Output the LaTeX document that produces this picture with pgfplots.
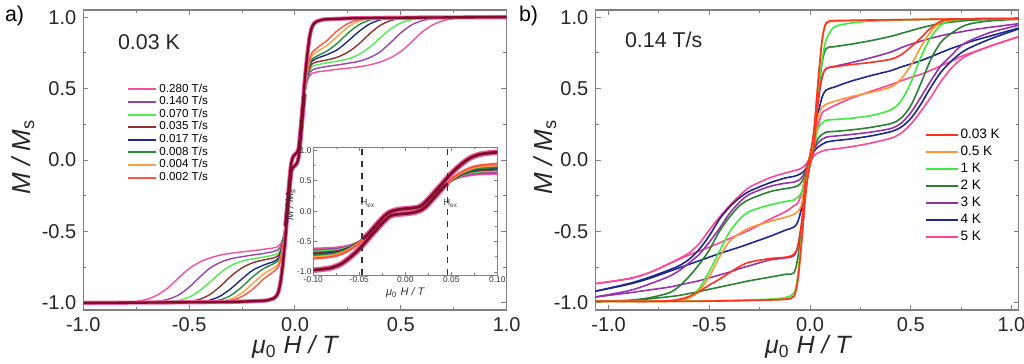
\documentclass[border=0pt]{standalone}
\usepackage{fontspec}
\setmainfont{Liberation Sans}
\usepackage{pgfplots}
\pgfplotsset{compat=1.18}
\usepackage{pgfplotstable}

\definecolor{cPinkA}{RGB}{245,80,160}
\definecolor{cPurpA}{RGB}{150,70,170}
\definecolor{cGreenA}{RGB}{80,235,80}
\definecolor{cBrownA}{RGB}{140,50,50}
\definecolor{cBlueA}{RGB}{30,40,140}
\definecolor{cDGreenA}{RGB}{40,140,60}
\definecolor{cOrangeA}{RGB}{255,160,70}
\definecolor{cRedA}{RGB}{255,85,60}
\definecolor{cMaroon}{RGB}{125,15,40}
\definecolor{cHalo}{RGB}{240,90,160}
\definecolor{cRedB}{RGB}{255,50,30}
\definecolor{cOrangeB}{RGB}{255,150,50}
\definecolor{cGreenB}{RGB}{60,235,60}
\definecolor{cDGreenB}{RGB}{40,130,50}
\definecolor{cPurpB}{RGB}{150,50,170}
\definecolor{cBlueB}{RGB}{30,40,140}
\definecolor{cPinkB}{RGB}{255,70,150}

% ---------- panel a: common part of the down sweep ----------
\pgfplotstableread{
x y
1.0 1.0
0.6 0.997
0.3 0.993
0.15 0.985
0.12 0.978
0.1 0.968
0.09 0.955
0.08 0.93
0.07 0.87
0.06 0.76
0.05 0.62
0.04 0.45
0.03 0.28
0.022 0.15
0.016 0.075
0.008 0.05
0 0.04
-0.008 0.025
-0.016 -0.01
-0.022 -0.07
-0.03 -0.2
-0.04 -0.37
-0.046 -0.46
}\Acommon
% 0.280 T/s
\pgfplotstableread{
x y
-0.03 -0.2
-0.04 -0.37
-0.05 -0.5
-0.06 -0.56
-0.07 -0.59
-0.08 -0.605
-0.1 -0.615
-0.15 -0.625
-0.2 -0.635
-0.25 -0.643
-0.3 -0.652
-0.35 -0.665
-0.4 -0.685
-0.45 -0.715
-0.5 -0.76
-0.55 -0.825
-0.6 -0.895
-0.65 -0.945
-0.7 -0.975
-0.75 -0.99
-0.8 -0.997
-0.9 -1.0
-1.0 -1.0
}\Aa
% 0.140 T/s
\pgfplotstableread{
x y
-0.03 -0.2
-0.04 -0.37
-0.05 -0.5
-0.06 -0.57
-0.07 -0.61
-0.08 -0.628
-0.1 -0.64
-0.15 -0.655
-0.2 -0.665
-0.25 -0.677
-0.3 -0.69
-0.35 -0.715
-0.4 -0.755
-0.45 -0.82
-0.5 -0.89
-0.55 -0.945
-0.6 -0.975
-0.65 -0.99
-0.7 -0.997
-0.8 -1.0
-1.0 -1.0
}\Ab
% 0.070 T/s
\pgfplotstableread{
x y
-0.03 -0.2
-0.04 -0.37
-0.05 -0.51
-0.06 -0.58
-0.07 -0.63
-0.08 -0.652
-0.1 -0.665
-0.15 -0.68
-0.2 -0.692
-0.25 -0.708
-0.3 -0.737
-0.35 -0.787
-0.4 -0.852
-0.45 -0.915
-0.5 -0.96
-0.55 -0.982
-0.6 -0.993
-0.7 -1.0
-1.0 -1.0
}\Ac
% 0.035 T/s
\pgfplotstableread{
x y
-0.03 -0.2
-0.04 -0.37
-0.05 -0.51
-0.06 -0.59
-0.07 -0.645
-0.08 -0.67
-0.1 -0.685
-0.15 -0.70
-0.2 -0.72
-0.25 -0.755
-0.3 -0.81
-0.35 -0.88
-0.4 -0.94
-0.45 -0.975
-0.5 -0.99
-0.55 -0.997
-0.6 -1.0
-1.0 -1.0
}\Ad
% 0.017 T/s
\pgfplotstableread{
x y
-0.03 -0.2
-0.04 -0.37
-0.05 -0.52
-0.06 -0.6
-0.07 -0.66
-0.08 -0.69
-0.1 -0.71
-0.15 -0.737
-0.2 -0.772
-0.25 -0.832
-0.3 -0.897
-0.35 -0.95
-0.4 -0.98
-0.45 -0.993
-0.5 -1.0
-1.0 -1.0
}\Ae
% 0.008 T/s
\pgfplotstableread{
x y
-0.03 -0.2
-0.04 -0.37
-0.05 -0.52
-0.06 -0.61
-0.07 -0.67
-0.08 -0.705
-0.1 -0.725
-0.15 -0.762
-0.2 -0.817
-0.25 -0.887
-0.3 -0.945
-0.35 -0.978
-0.4 -0.992
-0.45 -0.998
-0.5 -1.0
-1.0 -1.0
}\Af
% 0.004 T/s
\pgfplotstableread{
x y
-0.03 -0.2
-0.04 -0.37
-0.05 -0.52
-0.06 -0.62
-0.07 -0.69
-0.08 -0.73
-0.1 -0.755
-0.15 -0.80
-0.2 -0.865
-0.25 -0.93
-0.3 -0.972
-0.35 -0.99
-0.4 -0.997
-0.5 -1.0
-1.0 -1.0
}\Ag
% 0.002 T/s
\pgfplotstableread{
x y
-0.03 -0.2
-0.04 -0.37
-0.05 -0.53
-0.06 -0.635
-0.07 -0.71
-0.08 -0.75
-0.1 -0.78
-0.15 -0.835
-0.2 -0.905
-0.25 -0.955
-0.3 -0.983
-0.35 -0.995
-0.4 -1.0
-1.0 -1.0
}\Ah

% ---------- panel b: x, down sweep, up sweep ----------
% 0.03 K
\pgfplotstableread{
x dn up
1.04 0.99 0.99
0.9 0.99 0.99
0.8 0.988 0.988
0.75 0.988 0.986
0.7 0.987 0.983
0.65 0.986 0.972
0.6 0.985 0.925
0.55 0.984 0.855
0.5 0.983 0.79
0.45 0.982 0.735
0.4 0.981 0.705
0.3 0.98 0.683
0.2 0.978 0.667
0.12 0.975 0.652
0.08 0.96 0.64
0.06 0.84 0.58
0.04 0.55 0.42
0.02 0.22 0.1
0 0.03 -0.03
-0.02 -0.1 -0.22
-0.04 -0.42 -0.55
-0.06 -0.6 -0.84
-0.08 -0.66 -0.955
-0.12 -0.68 -0.975
-0.2 -0.69 -0.98
-0.3 -0.715 -0.983
-0.35 -0.745 -0.985
-0.4 -0.79 -0.986
-0.45 -0.835 -0.987
-0.5 -0.875 -0.988
-0.55 -0.92 -0.989
-0.6 -0.955 -0.99
-0.65 -0.975 -0.99
-0.7 -0.985 -0.99
-0.8 -0.99 -0.99
-0.9 -0.99 -0.99
-1.07 -0.99 -0.99
}\Ba
% 0.5 K
\pgfplotstableread{
x dn up
1.04 0.99 0.99
0.9 0.99 0.99
0.8 0.988 0.988
0.75 0.988 0.986
0.7 0.987 0.982
0.65 0.986 0.965
0.6 0.985 0.9
0.55 0.984 0.79
0.5 0.983 0.66
0.45 0.982 0.565
0.4 0.981 0.51
0.3 0.978 0.473
0.2 0.975 0.442
0.12 0.97 0.41
0.08 0.955 0.39
0.06 0.83 0.37
0.04 0.54 0.3
0.02 0.2 0.1
0 0.03 -0.03
-0.02 -0.1 -0.2
-0.04 -0.3 -0.53
-0.06 -0.36 -0.82
-0.08 -0.38 -0.95
-0.12 -0.40 -0.972
-0.2 -0.43 -0.978
-0.3 -0.475 -0.982
-0.35 -0.515 -0.984
-0.4 -0.57 -0.985
-0.45 -0.68 -0.986
-0.5 -0.815 -0.987
-0.55 -0.915 -0.988
-0.6 -0.965 -0.989
-0.65 -0.985 -0.99
-0.7 -0.99 -0.99
-0.8 -0.99 -0.99
-0.9 -0.99 -0.99
-1.07 -0.99 -0.99
}\Bb
% 1 K
\pgfplotstableread{
x dn up
1.04 0.99 0.99
0.9 0.99 0.99
0.8 0.988 0.987
0.75 0.987 0.984
0.7 0.986 0.975
0.65 0.985 0.945
0.6 0.984 0.86
0.55 0.983 0.72
0.5 0.982 0.54
0.45 0.98 0.41
0.4 0.978 0.35
0.3 0.972 0.31
0.2 0.958 0.292
0.12 0.93 0.283
0.08 0.84 0.278
0.06 0.7 0.26
0.04 0.48 0.22
0.02 0.18 0.1
0 0.03 -0.03
-0.02 -0.1 -0.18
-0.04 -0.22 -0.5
-0.06 -0.26 -0.8
-0.08 -0.28 -0.93
-0.12 -0.29 -0.962
-0.2 -0.315 -0.974
-0.3 -0.36 -0.979
-0.35 -0.415 -0.981
-0.4 -0.505 -0.983
-0.45 -0.64 -0.984
-0.5 -0.78 -0.985
-0.55 -0.9 -0.986
-0.6 -0.96 -0.987
-0.65 -0.98 -0.988
-0.7 -0.988 -0.989
-0.8 -0.99 -0.99
-0.9 -0.99 -0.99
-1.07 -0.99 -0.99
}\Bc
% 2 K
\pgfplotstableread{
x dn up
1.04 0.99 0.985
0.9 0.985 0.975
0.8 0.978 0.955
0.75 0.973 0.93
0.7 0.965 0.885
0.65 0.955 0.825
0.6 0.942 0.705
0.55 0.925 0.535
0.5 0.905 0.38
0.45 0.885 0.29
0.4 0.865 0.255
0.3 0.835 0.228
0.2 0.81 0.21
0.12 0.793 0.2
0.08 0.78 0.195
0.06 0.68 0.18
0.04 0.45 0.15
0.02 0.16 0.08
0 0.03 -0.03
-0.02 -0.08 -0.16
-0.04 -0.15 -0.45
-0.06 -0.18 -0.68
-0.08 -0.19 -0.79
-0.12 -0.2 -0.8
-0.2 -0.222 -0.82
-0.3 -0.275 -0.845
-0.35 -0.32 -0.86
-0.4 -0.4 -0.875
-0.45 -0.5 -0.89
-0.5 -0.63 -0.905
-0.55 -0.73 -0.92
-0.6 -0.815 -0.935
-0.65 -0.885 -0.948
-0.7 -0.93 -0.957
-0.8 -0.965 -0.972
-0.9 -0.982 -0.985
-1.07 -0.99 -0.99
}\Bd
% 3 K
\pgfplotstableread{
x dn up
1.04 0.955 0.945
0.9 0.93 0.895
0.8 0.91 0.84
0.75 0.897 0.8
0.7 0.885 0.73
0.65 0.87 0.66
0.6 0.852 0.555
0.55 0.832 0.44
0.5 0.81 0.33
0.45 0.785 0.255
0.4 0.755 0.22
0.3 0.715 0.195
0.2 0.68 0.178
0.12 0.655 0.167
0.08 0.64 0.16
0.06 0.58 0.145
0.04 0.4 0.12
0.02 0.15 0.07
0 0.03 -0.03
-0.02 -0.07 -0.15
-0.04 -0.12 -0.42
-0.06 -0.145 -0.6
-0.08 -0.155 -0.67
-0.12 -0.162 -0.685
-0.2 -0.185 -0.7
-0.3 -0.24 -0.74
-0.35 -0.295 -0.76
-0.4 -0.375 -0.785
-0.45 -0.48 -0.805
-0.5 -0.575 -0.825
-0.55 -0.66 -0.845
-0.6 -0.72 -0.86
-0.65 -0.775 -0.875
-0.7 -0.815 -0.89
-0.8 -0.87 -0.91
-0.9 -0.915 -0.93
-1.07 -0.96 -0.96
}\Be
% 4 K
\pgfplotstableread{
x dn up
1.04 0.925 0.92
0.9 0.87 0.85
0.8 0.83 0.79
0.75 0.805 0.75
0.7 0.78 0.69
0.65 0.752 0.615
0.6 0.723 0.51
0.55 0.695 0.39
0.5 0.672 0.29
0.45 0.65 0.228
0.4 0.625 0.198
0.3 0.59 0.168
0.2 0.55 0.147
0.12 0.51 0.135
0.08 0.49 0.125
0.06 0.44 0.11
0.04 0.32 0.09
0.02 0.13 0.06
0 0.02 -0.02
-0.02 -0.06 -0.13
-0.04 -0.09 -0.32
-0.06 -0.105 -0.43
-0.08 -0.115 -0.47
-0.12 -0.125 -0.49
-0.2 -0.16 -0.535
-0.3 -0.218 -0.585
-0.35 -0.265 -0.61
-0.4 -0.33 -0.632
-0.45 -0.415 -0.655
-0.5 -0.53 -0.68
-0.55 -0.625 -0.705
-0.6 -0.695 -0.73
-0.65 -0.74 -0.755
-0.7 -0.77 -0.78
-0.8 -0.822 -0.83
-0.9 -0.865 -0.87
-1.07 -0.92 -0.92
}\Bf
% 5 K
\pgfplotstableread{
x dn up
1.04 0.865 0.865
0.9 0.8 0.8
0.8 0.75 0.745
0.75 0.725 0.705
0.7 0.69 0.64
0.65 0.66 0.55
0.6 0.628 0.44
0.55 0.6 0.34
0.5 0.578 0.25
0.45 0.553 0.185
0.4 0.527 0.152
0.3 0.48 0.118
0.2 0.43 0.092
0.12 0.38 0.077
0.08 0.35 0.07
0.06 0.33 0.062
0.04 0.24 0.05
0.02 0.1 0.03
0 0.02 -0.02
-0.02 -0.03 -0.09
-0.04 -0.055 -0.22
-0.06 -0.068 -0.3
-0.08 -0.075 -0.32
-0.12 -0.09 -0.36
-0.2 -0.125 -0.415
-0.3 -0.19 -0.49
-0.35 -0.25 -0.52
-0.4 -0.32 -0.55
-0.45 -0.4 -0.58
-0.5 -0.49 -0.61
-0.55 -0.585 -0.637
-0.6 -0.65 -0.665
-0.65 -0.69 -0.695
-0.7 -0.725 -0.728
-0.8 -0.79 -0.79
-0.9 -0.83 -0.832
-1.07 -0.866 -0.866
}\Bg

\newcommand{\Aloop}[3]{% color, table, legend
  \addplot[#1, line width=0.7pt, smooth] table {#2}; \addlegendentry{#3}
  \addplot[#1, line width=0.7pt, smooth, forget plot] table[x expr=-\thisrow{x}, y expr=-\thisrow{y}] {#2};
}
\newcommand{\Aloopi}[2]{% color, table (inset, no legend)
  \addplot[#1, line width=1.1pt, smooth, forget plot] table {#2};
  \addplot[#1, line width=1.1pt, smooth, forget plot] table[x expr=-\thisrow{x}, y expr=-\thisrow{y}] {#2};
}
\newcommand{\Athick}[2]{% halo width, core width
  \addplot[cHalo, line width=#1, smooth, forget plot] table {\Acommon};
  \addplot[cHalo, line width=#1, smooth, forget plot] table[x expr=-\thisrow{x}, y expr=-\thisrow{y}] {\Acommon};
  \addplot[cMaroon, line width=#2, smooth, forget plot] table {\Acommon};
  \addplot[cMaroon, line width=#2, smooth, forget plot] table[x expr=-\thisrow{x}, y expr=-\thisrow{y}] {\Acommon};
}
\newcommand{\Bloop}[3]{%
  \addplot[#1, line width=0.8pt, smooth] table[x=x, y=dn] {#2}; \addlegendentry{#3}
  \addplot[#1, line width=0.8pt, smooth, forget plot] table[x=x, y=up] {#2};
}

\pgfplotsset{
  panel/.style={
    scale only axis, anchor=south west,
    width=211.7pt, height=150pt,
    ymin=-1.05, ymax=1.05,
    ytick={-1,-0.5,0,0.5,1}, yticklabels={-1.0,-0.5,0.0,0.5,1.0},
    xtick={-1,-0.5,0,0.5,1}, xticklabels={-1.0,-0.5,0.0,0.5,1.0},
    minor x tick num=1, minor y tick num=1,
    axis line style={black!50, line width=0.6pt},
    every tick/.style={black!50, line width=0.5pt},
    major tick length=2.6pt, minor tick length=1.6pt,
    tick label style={font=\fontsize{10}{12}\selectfont, text=black!85},
    legend cell align=left,
  },
}

\begin{document}
\begin{tikzpicture}
\path[use as bounding box] (0pt,0pt) rectangle (512pt,-182pt);

% ================= panel a =================
\begin{axis}[panel, at={(41.65pt,-155pt)}, xmin=-1, xmax=1,
  legend style={draw=none, fill=none, at={(0.102,0.758)}, anchor=north west,
    font=\fontsize{5.8}{6}\selectfont, inner sep=0pt, row sep=0pt, column sep=1pt,
    nodes={inner sep=0.3pt}},
  legend image code/.code={\draw[#1, line width=1pt, sharp plot] (0pt,0pt) -- (14pt,0pt);}]
\Aloop{cPinkA}{\Aa}{0.280 T/s}
\Aloop{cPurpA}{\Ab}{0.140 T/s}
\Aloop{cGreenA}{\Ac}{0.070 T/s}
\Aloop{cBrownA}{\Ad}{0.035 T/s}
\Aloop{cBlueA}{\Ae}{0.017 T/s}
\Aloop{cDGreenA}{\Af}{0.008 T/s}
\Aloop{cOrangeA}{\Ag}{0.004 T/s}
\Aloop{cRedA}{\Ah}{0.002 T/s}
\Athick{2.1pt}{1.2pt}
\end{axis}

% ================= inset =================
\begin{axis}[at={(156.65pt,-137.5pt)}, anchor=south west, scale only axis,
  width=92pt, height=63.85pt,
  xmin=-0.1, xmax=0.1, ymin=-1.05, ymax=1.05,
  xtick={-0.1,-0.05,0,0.05,0.1}, xticklabels={-0.10,-0.05,0.00,0.05,0.10},
  ytick={-1,-0.5,0,0.5,1}, yticklabels={-1.0,-0.5,0.0,0.5,1.0},
  minor x tick num=1, minor y tick num=1,
  axis line style={black!50, line width=0.5pt},
  every tick/.style={black!50, line width=0.4pt},
  major tick length=1.6pt, minor tick length=1pt,
  tick label style={font=\fontsize{4.2}{5}\selectfont, text=black!80, inner sep=0.7pt},
  axis background/.style={fill=white},
  xlabel={\itshape μ\textsubscript{\upshape 0} H / T},
  ylabel={\itshape M / M\textsubscript{\upshape s}},
  xlabel style={font=\fontsize{5.5}{6}\selectfont, text=black!80, at={(axis description cs:0.5,-0.14)}, anchor=center, inner sep=0pt},
  ylabel style={font=\fontsize{5.5}{6}\selectfont, text=black!80, at={(axis description cs:-0.125,0.55)}, anchor=center, inner sep=0pt},
]
\Aloopi{cPinkA}{\Aa}
\Aloopi{cPurpA}{\Ab}
\Aloopi{cGreenA}{\Ac}
\Aloopi{cBrownA}{\Ad}
\Aloopi{cBlueA}{\Ae}
\Aloopi{cDGreenA}{\Af}
\Aloopi{cOrangeA}{\Ag}
\Aloopi{cRedA}{\Ah}
\Athick{2.8pt}{1.4pt}
\addplot[black!80, dashed, line width=0.6pt, forget plot] coordinates {(-0.047,-1.05) (-0.047,1.05)};
\addplot[black!80, dashed, line width=0.6pt, forget plot] coordinates {(0.046,-1.05) (0.046,1.05)};
\node[font=\fontsize{4.6}{5}\selectfont, text=black!75] at (axis cs:-0.0405,0.134) {H\textsubscript{ex}};
\node[font=\fontsize{4.6}{5}\selectfont, text=black!75] at (axis cs:0.0494,0.134) {H\textsubscript{ex}};
\end{axis}

% ================= panel b =================
\begin{axis}[panel, at={(297.65pt,-155pt)}, xmin=-1.066, xmax=1.036,
  reverse legend,
  legend style={draw=none, fill=none, at={(0.778,0.605)}, anchor=north west,
    font=\fontsize{6.8}{7}\selectfont, inner sep=0pt, row sep=2.4pt, column sep=1pt,
    nodes={inner sep=0pt, text height=4.9pt, text depth=1.2pt}},
  legend image code/.code={\draw[#1, line width=0.9pt] (0pt,0.2pt) -- (15.8pt,0.2pt);}]
\Bloop{cPinkB}{\Bg}{5 K}
\Bloop{cBlueB}{\Bf}{4 K}
\Bloop{cPurpB}{\Be}{3 K}
\Bloop{cDGreenB}{\Bd}{2 K}
\Bloop{cGreenB}{\Bc}{1 K}
\Bloop{cOrangeB}{\Bb}{0.5 K}
\Bloop{cRedB}{\Ba}{0.03 K}
\end{axis}

% ================= texts =================
\node[anchor=west, font=\fontsize{10.7}{12}\selectfont] at (-1pt,-8pt) {a)};
\node[anchor=west, font=\fontsize{10.7}{12}\selectfont] at (256pt,-8pt) {b)};
\node[anchor=west, font=\fontsize{10.7}{12}\selectfont, text=black!85] at (55.5pt,-21pt) {0.03 K};
\node[anchor=west, font=\fontsize{10.7}{12}\selectfont, text=black!85] at (309pt,-20pt) {0.14 T/s};
\node[rotate=90, font=\fontsize{13}{14}\selectfont, text=black!85] at (11.5pt,-78.5pt) {\itshape M / M\textsubscript{\upshape s}};
\node[rotate=90, font=\fontsize{13}{14}\selectfont, text=black!85] at (272.5pt,-78.5pt) {\itshape M / M\textsubscript{\upshape s}};
\node[font=\fontsize{12.5}{14}\selectfont, text=black!85] at (147.5pt,-173.5pt) {\itshape μ\textsubscript{\upshape 0} H / T};
\node[font=\fontsize{12.5}{14}\selectfont, text=black!85] at (404pt,-173.5pt) {\itshape μ\textsubscript{\upshape 0} H / T};
\end{tikzpicture}
\end{document}
